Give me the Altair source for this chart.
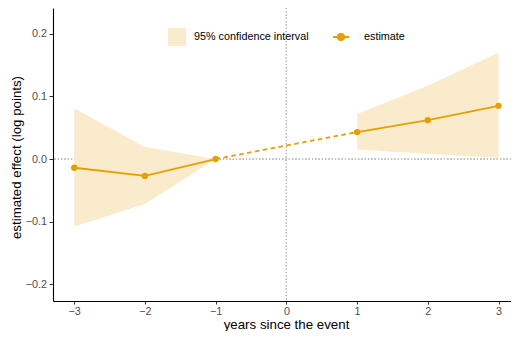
import altair as alt
import pandas as pd

# ---- data ----
years = [-3, -2, -1, 1, 2, 3]
estimate = [-0.014, -0.027, 0.0, 0.043, 0.062, 0.085]
ci_low = [-0.108, -0.072, 0.0, 0.015, 0.008, 0.002]
ci_high = [0.081, 0.019, 0.0, 0.072, 0.117, 0.170]
period = ["pre", "pre", "pre", "post", "post", "post"]
x_ticks = [-3, -2, -1, 0, 1, 2, 3]
y_ticks = [-0.2, -0.1, 0.0, 0.1, 0.2]

ORANGE = "#E69F00"
RIBBON = "#FAEBCC"
FONT = "Liberation Sans"

df = pd.DataFrame({
    "year": years,
    "estimate": estimate,
    "lo": ci_low,
    "hi": ci_high,
    "period": period,
    "band": ["95% confidence interval"] * len(years),
    "series": ["estimate"] * len(years),
})

xscale = alt.Scale(domain=[-3.3, 3.176], nice=False, zero=False)
yscale = alt.Scale(domain=[-0.2269, 0.2413], nice=False, zero=False)

xaxis = alt.Axis(values=x_ticks, format="d", title="years since the event",
                 titleX=233, titleY=27, titleBaseline="alphabetic",
                 tickSize=3, labelPadding=1)
yaxis = alt.Axis(values=y_ticks, format=".1f", title="estimated effect (log points)",
                 titleX=-33, titleY=149, titleBaseline="alphabetic", titleAngle=270,
                 tickSize=4, labelPadding=2.5)

X = alt.X("year:Q", scale=xscale, axis=xaxis)

base = alt.Chart(df)

vrule = base.mark_rule(color="#BDBDBD", strokeDash=[1, 2.3], strokeWidth=1).encode(
    x=alt.datum(0, scale=xscale, axis=xaxis))
hrule = base.mark_rule(color="#BDBDBD", strokeDash=[1, 2.3], strokeWidth=1).encode(
    y=alt.datum(0, scale=yscale, axis=yaxis))

ribbon = base.mark_area(opacity=1).encode(
    x=X,
    y=alt.Y("lo:Q", scale=yscale, axis=yaxis),
    y2="hi:Q",
    detail="period:N",
    fill=alt.Fill("band:N", scale=alt.Scale(range=[RIBBON]),
                  legend=alt.Legend(title=None, orient="none", legendX=115, legendY=20,
                                    symbolType="square", symbolSize=324,
                                    symbolStrokeWidth=0, labelOffset=8,
                                    labelFontSize=10.8, labelFont=FONT, labelColor="black",
                                    padding=0)),
)

dashed = base.transform_filter(
    alt.FieldOneOfPredicate(field="year", oneOf=[-1, 1])
).mark_line(color=ORANGE, strokeDash=[4.5, 3.5], strokeWidth=1.8).encode(
    x=X, y=alt.Y("estimate:Q", scale=yscale, axis=yaxis))

solid = base.mark_line(color=ORANGE, strokeWidth=1.8).encode(
    x=X, y=alt.Y("estimate:Q", scale=yscale, axis=yaxis), detail="period:N")

SYMBOL = "M-1,0H1M0.4,0A0.4,0.4,0,1,1,-0.4,0A0.4,0.4,0,1,1,0.4,0Z"

points = base.mark_circle(size=40, opacity=1).encode(
    x=X, y=alt.Y("estimate:Q", scale=yscale, axis=yaxis),
    color=alt.Color("series:N", scale=alt.Scale(range=[ORANGE]),
                    legend=alt.Legend(title=None, orient="none", legendX=279, legendY=20,
                                      symbolType=SYMBOL, symbolSize=256,
                                      symbolStrokeColor=ORANGE, symbolStrokeWidth=1.8,
                                      labelOffset=14, labelFontSize=10.8, labelFont=FONT,
                                      labelColor="black", padding=0)),
)

chart = alt.layer(vrule, hrule, ribbon, dashed, solid, points).properties(
    width=458, height=293,
    autosize=alt.AutoSizeParams(type="none"),
    padding={"left": 45, "top": 0, "right": 0, "bottom": 30},
).configure_view(stroke=None).configure_axis(
    grid=False,
    domainColor="black", domainWidth=1.1,
    tickColor="#333333", tickWidth=1,
    labelFont=FONT, labelFontSize=10.8, labelColor="#4D4D4D",
    titleFont=FONT, titleFontSize=13.3, titleColor="black", titleFontWeight="normal",
).configure_legend(labelFont=FONT)

chart.save("out.html", embed_options={"renderer": "svg", "actions": False})
